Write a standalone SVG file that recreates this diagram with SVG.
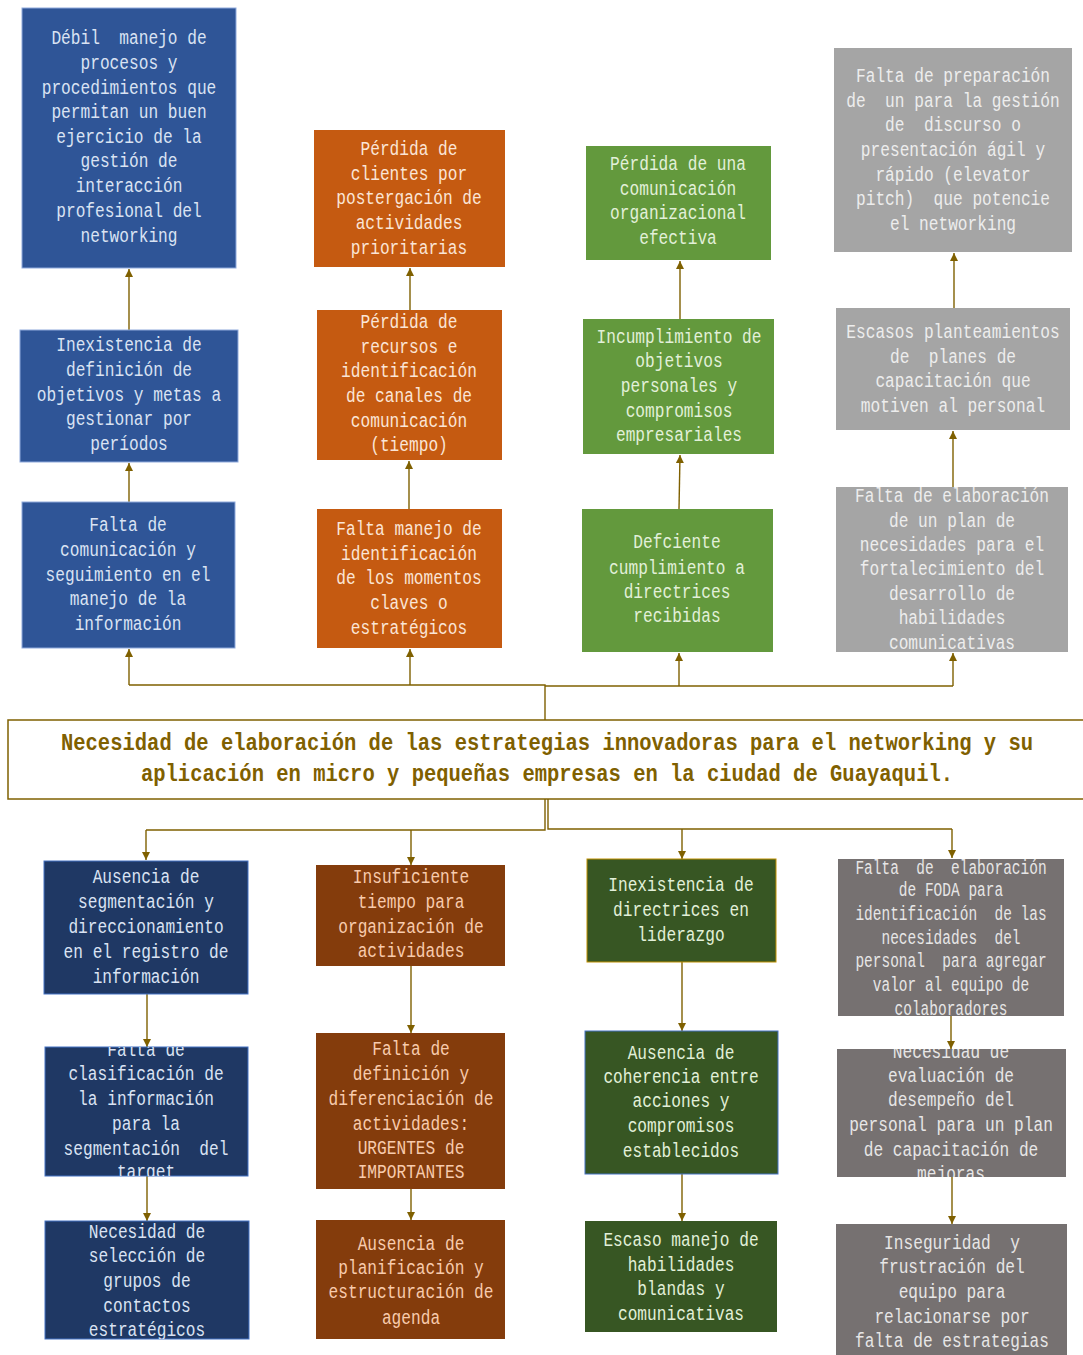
<svg xmlns="http://www.w3.org/2000/svg" width="1083" height="1355" viewBox="0 0 1083 1355">
<style>
.t{font-family:"Liberation Mono","DejaVu Sans Mono",monospace;font-size:21px;text-anchor:middle;white-space:pre}
.title{font-family:"Liberation Mono","DejaVu Sans Mono",monospace;font-size:24px;font-weight:bold;text-anchor:middle;fill:#7F6000;white-space:pre}
.blue{fill:#2F5597;stroke:#8FAADC;stroke-width:1}
.orange{fill:#C55A11}
.green{fill:#63993D}
.gray{fill:#A5A5A5}
.navy{fill:#1F3864;stroke:#4472C4;stroke-width:1}
.brown{fill:#843C0C}
.dgreen{fill:#375623}
.dgray{fill:#767171}
.tb{fill:#DAE3F3}
.to{fill:#FBE5D6}
.tg{fill:#E2F0D9}
.tgr{fill:#EDEDED}
.tbr{fill:#F8CBAD}
.tdg{fill:#E7E6E6}
.c{fill:none;stroke:#7F6000;stroke-width:1.4}
.ca{fill:none;stroke:#7F6000;stroke-width:1.4;marker-end:url(#ah)}
</style>
<defs>
<marker id="ah" viewBox="0 0 10 10" refX="10" refY="5" markerWidth="9" markerHeight="8" markerUnits="userSpaceOnUse" orient="auto">
<path d="M0,0 L10,5 L0,10 z" fill="#7F6000"/>
</marker>
<clipPath id="k1"><rect x="836" y="487" width="232" height="165"/></clipPath>
<clipPath id="k2"><rect x="45" y="1047" width="203" height="129"/></clipPath>
<clipPath id="k3"><rect x="45" y="1221" width="204" height="118"/></clipPath>
<clipPath id="k4"><rect x="838" y="859" width="226" height="157"/></clipPath>
<clipPath id="k5"><rect x="837" y="1049" width="229" height="128"/></clipPath>
<clipPath id="k6"><rect x="836" y="1224" width="231" height="131"/></clipPath>
</defs>
<rect width="1083" height="1355" fill="#FFFFFF"/>

<g id="connectors">
<polyline class="c" points="545,720 545,685 129,685"/>
<polyline class="c" points="545,686 953,686"/>
<line class="ca" x1="129" y1="685" x2="129" y2="649"/>
<line class="ca" x1="410" y1="685" x2="410" y2="649"/>
<line class="ca" x1="679" y1="686" x2="679" y2="653"/>
<line class="ca" x1="953" y1="686" x2="953" y2="653"/>
<line class="ca" x1="129" y1="502" x2="129" y2="463"/>
<line class="ca" x1="129" y1="330" x2="129" y2="269"/>
<line class="ca" x1="409" y1="509" x2="409" y2="461"/>
<line class="ca" x1="410" y1="310" x2="410" y2="268"/>
<line class="ca" x1="679" y1="509" x2="680" y2="455"/>
<line class="ca" x1="680" y1="319" x2="680" y2="261"/>
<line class="ca" x1="953" y1="487" x2="953" y2="431"/>
<line class="ca" x1="954" y1="308" x2="954" y2="253"/>
<polyline class="c" points="545,799 545,830 146,830"/>
<polyline class="c" points="548,799 548,829 952,829"/>
<line class="ca" x1="146" y1="830" x2="146" y2="860"/>
<line class="ca" x1="411" y1="830" x2="411" y2="865"/>
<line class="ca" x1="682" y1="829" x2="682" y2="859"/>
<line class="ca" x1="952" y1="829" x2="952" y2="858"/>
<line class="ca" x1="147" y1="994" x2="147" y2="1047"/>
<line class="ca" x1="147" y1="1176" x2="147" y2="1221"/>
<line class="ca" x1="411" y1="966" x2="411" y2="1033"/>
<line class="ca" x1="411" y1="1189" x2="411" y2="1220"/>
<line class="ca" x1="682" y1="962" x2="682" y2="1031"/>
<line class="ca" x1="682" y1="1174" x2="682" y2="1221"/>
<line class="ca" x1="951" y1="1016" x2="951" y2="1049"/>
<line class="ca" x1="952" y1="1177" x2="952" y2="1224"/>
</g>

<g id="center">
<rect x="8" y="720" width="1090" height="79" fill="#FFFFFF" stroke="#7F6000" stroke-width="1.5"/>
<text class="title" transform="translate(547,0) scale(0.855,1)"><tspan x="0" y="750">Necesidad de elaboración de las estrategias innovadoras para el networking y su</tspan><tspan x="0" y="781">aplicación en micro y pequeñas empresas en la ciudad de Guayaquil.</tspan></text>
</g>

<g id="n_t1a">
<rect class="blue" x="22" y="8" width="214" height="260"/>
<text class="t tb" transform="translate(129,0) scale(0.77,1)"><tspan x="0" y="44">Débil  manejo de</tspan><tspan x="0" y="69">procesos y</tspan><tspan x="0" y="94">procedimientos que</tspan><tspan x="0" y="118">permitan un buen</tspan><tspan x="0" y="143">ejercicio de la</tspan><tspan x="0" y="167">gestión de</tspan><tspan x="0" y="192">interacción</tspan><tspan x="0" y="217">profesional del</tspan><tspan x="0" y="242">networking</tspan></text>
</g>
<g id="n_t1b">
<rect class="blue" x="20" y="330" width="218" height="132"/>
<text class="t tb" transform="translate(129,0) scale(0.77,1)"><tspan x="0" y="351">Inexistencia de</tspan><tspan x="0" y="376">definición de</tspan><tspan x="0" y="401">objetivos y metas a</tspan><tspan x="0" y="425">gestionar por</tspan><tspan x="0" y="450">períodos</tspan></text>
</g>
<g id="n_t1c">
<rect class="blue" x="22" y="502" width="213" height="146"/>
<text class="t tb" transform="translate(128,0) scale(0.77,1)"><tspan x="0" y="531">Falta de</tspan><tspan x="0" y="556">comunicación y</tspan><tspan x="0" y="581">seguimiento en el</tspan><tspan x="0" y="605">manejo de la</tspan><tspan x="0" y="630">información</tspan></text>
</g>

<g id="n_t2a">
<rect class="orange" x="314" y="130" width="191" height="137"/>
<text class="t to" transform="translate(409,0) scale(0.77,1)"><tspan x="0" y="155">Pérdida de</tspan><tspan x="0" y="180">clientes por</tspan><tspan x="0" y="204">postergación de</tspan><tspan x="0" y="229">actividades</tspan><tspan x="0" y="254">prioritarias</tspan></text>
</g>
<g id="n_t2b">
<rect class="orange" x="317" y="310" width="185" height="150"/>
<text class="t to" transform="translate(409,0) scale(0.77,1)"><tspan x="0" y="328">Pérdida de</tspan><tspan x="0" y="353">recursos e</tspan><tspan x="0" y="377">identificación</tspan><tspan x="0" y="402">de canales de</tspan><tspan x="0" y="427">comunicación</tspan><tspan x="0" y="451">(tiempo)</tspan></text>
</g>
<g id="n_t2c">
<rect class="orange" x="317" y="509" width="185" height="139"/>
<text class="t to" transform="translate(409,0) scale(0.77,1)"><tspan x="0" y="535">Falta manejo de</tspan><tspan x="0" y="560">identificación</tspan><tspan x="0" y="584">de los momentos</tspan><tspan x="0" y="609">claves o</tspan><tspan x="0" y="634">estratégicos</tspan></text>
</g>

<g id="n_t3a">
<rect class="green" x="586" y="146" width="185" height="114"/>
<text class="t tg" transform="translate(678,0) scale(0.77,1)"><tspan x="0" y="170">Pérdida de una</tspan><tspan x="0" y="195">comunicación</tspan><tspan x="0" y="219">organizacional</tspan><tspan x="0" y="244">efectiva</tspan></text>
</g>
<g id="n_t3b">
<rect class="green" x="583" y="319" width="191" height="135"/>
<text class="t tg" transform="translate(679,0) scale(0.77,1)"><tspan x="0" y="343">Incumplimiento de</tspan><tspan x="0" y="367">objetivos</tspan><tspan x="0" y="392">personales y</tspan><tspan x="0" y="417">compromisos</tspan><tspan x="0" y="441">empresariales</tspan></text>
</g>
<g id="n_t3c">
<rect class="green" x="582" y="509" width="191" height="143"/>
<text class="t tg" transform="translate(677,0) scale(0.77,1)"><tspan x="0" y="548">Defciente</tspan><tspan x="0" y="574">cumplimiento a</tspan><tspan x="0" y="598">directrices</tspan><tspan x="0" y="622">recibidas</tspan></text>
</g>

<g id="n_t4a">
<rect class="gray" x="834" y="48" width="238" height="204"/>
<text class="t tgr" transform="translate(953,0) scale(0.77,1)"><tspan x="0" y="82">Falta de preparación</tspan><tspan x="0" y="107">de  un para la gestión</tspan><tspan x="0" y="131">de  discurso o</tspan><tspan x="0" y="156">presentación ágil y</tspan><tspan x="0" y="181">rápido (elevator</tspan><tspan x="0" y="205">pitch)  que potencie</tspan><tspan x="0" y="230">el networking</tspan></text>
</g>
<g id="n_t4b">
<rect class="gray" x="836" y="308" width="234" height="122"/>
<text class="t tgr" transform="translate(953,0) scale(0.77,1)"><tspan x="0" y="338">Escasos planteamientos</tspan><tspan x="0" y="363">de  planes de</tspan><tspan x="0" y="387">capacitación que</tspan><tspan x="0" y="412">motiven al personal</tspan></text>
</g>
<g id="n_t4c">
<rect class="gray" x="836" y="487" width="232" height="165"/>
<g clip-path="url(#k1)"><text class="t tgr" transform="translate(952,0) scale(0.77,1)"><tspan x="0" y="502">Falta de elaboración</tspan><tspan x="0" y="527">de un plan de</tspan><tspan x="0" y="551">necesidades para el</tspan><tspan x="0" y="575">fortalecimiento del</tspan><tspan x="0" y="600">desarrollo de</tspan><tspan x="0" y="624">habilidades</tspan><tspan x="0" y="649">comunicativas</tspan></text></g>
</g>

<g id="n_b1a">
<rect class="navy" x="44" y="861" width="204" height="133"/>
<text class="t tb" transform="translate(146,0) scale(0.77,1)"><tspan x="0" y="883">Ausencia de</tspan><tspan x="0" y="908">segmentación y</tspan><tspan x="0" y="933">direccionamiento</tspan><tspan x="0" y="958">en el registro de</tspan><tspan x="0" y="983">información</tspan></text>
</g>
<g id="n_b1b">
<rect class="navy" x="45" y="1047" width="203" height="129"/>
<g clip-path="url(#k2)"><text class="t tb" transform="translate(146,0) scale(0.77,1)"><tspan x="0" y="1056">Falta de</tspan><tspan x="0" y="1080">clasificación de</tspan><tspan x="0" y="1105">la información</tspan><tspan x="0" y="1130">para la</tspan><tspan x="0" y="1155">segmentación  del</tspan><tspan x="0" y="1178">target</tspan></text></g>
</g>
<g id="n_b1c">
<rect class="navy" x="45" y="1221" width="204" height="118"/>
<g clip-path="url(#k3)"><text class="t tb" transform="translate(147,0) scale(0.77,1)"><tspan x="0" y="1238">Necesidad de</tspan><tspan x="0" y="1262">selección de</tspan><tspan x="0" y="1287">grupos de</tspan><tspan x="0" y="1312">contactos</tspan><tspan x="0" y="1336">estratégicos</tspan></text></g>
</g>

<g id="n_b2a">
<rect class="brown" x="316" y="865" width="189" height="101"/>
<text class="t tbr" transform="translate(411,0) scale(0.77,1)"><tspan x="0" y="883">Insuficiente</tspan><tspan x="0" y="908">tiempo para</tspan><tspan x="0" y="933">organización de</tspan><tspan x="0" y="957">actividades</tspan></text>
</g>
<g id="n_b2b">
<rect class="brown" x="316" y="1033" width="189" height="156"/>
<text class="t tbr" transform="translate(411,0) scale(0.77,1)"><tspan x="0" y="1055">Falta de</tspan><tspan x="0" y="1080">definición y</tspan><tspan x="0" y="1105">diferenciación de</tspan><tspan x="0" y="1130">actividades:</tspan><tspan x="0" y="1154">URGENTES de</tspan><tspan x="0" y="1178">IMPORTANTES</tspan></text>
</g>
<g id="n_b2c">
<rect class="brown" x="316" y="1220" width="189" height="119"/>
<text class="t tbr" transform="translate(411,0) scale(0.77,1)"><tspan x="0" y="1250">Ausencia de</tspan><tspan x="0" y="1274">planificación y</tspan><tspan x="0" y="1298">estructuración de</tspan><tspan x="0" y="1324">agenda</tspan></text>
</g>

<g id="n_b3a">
<rect class="dgreen" x="587" y="859" width="189" height="103" stroke="#BF9000" stroke-width="1"/>
<text class="t tg" transform="translate(681,0) scale(0.77,1)"><tspan x="0" y="891">Inexistencia de</tspan><tspan x="0" y="916">directrices en</tspan><tspan x="0" y="941">liderazgo</tspan></text>
</g>
<g id="n_b3b">
<rect class="dgreen" x="585" y="1031" width="193" height="143" stroke="#4472C4" stroke-width="1"/>
<text class="t tg" transform="translate(681,0) scale(0.77,1)"><tspan x="0" y="1059">Ausencia de</tspan><tspan x="0" y="1083">coherencia entre</tspan><tspan x="0" y="1107">acciones y</tspan><tspan x="0" y="1132">compromisos</tspan><tspan x="0" y="1157">establecidos</tspan></text>
</g>
<g id="n_b3c">
<rect class="dgreen" x="585" y="1221" width="192" height="111"/>
<text class="t tg" transform="translate(681,0) scale(0.77,1)"><tspan x="0" y="1246">Escaso manejo de</tspan><tspan x="0" y="1271">habilidades</tspan><tspan x="0" y="1295">blandas y</tspan><tspan x="0" y="1320">comunicativas</tspan></text>
</g>

<g id="n_b4a">
<rect class="dgray" x="838" y="859" width="226" height="157"/>
<g clip-path="url(#k4)"><text class="t tdg" transform="translate(951,0) scale(0.69,1)"><tspan x="0" y="874">Falta  de  elaboración</tspan><tspan x="0" y="896">de FODA para</tspan><tspan x="0" y="920">identificación  de las</tspan><tspan x="0" y="944">necesidades  del</tspan><tspan x="0" y="967">personal  para agregar</tspan><tspan x="0" y="991">valor al equipo de</tspan><tspan x="0" y="1015">colaboradores</tspan></text></g>
</g>
<g id="n_b4b">
<rect class="dgray" x="837" y="1049" width="229" height="128"/>
<g clip-path="url(#k5)"><text class="t tdg" transform="translate(951,0) scale(0.77,1)"><tspan x="0" y="1058">Necesidad de</tspan><tspan x="0" y="1082">evaluación de</tspan><tspan x="0" y="1106">desempeño del</tspan><tspan x="0" y="1131">personal para un plan</tspan><tspan x="0" y="1156">de capacitación de</tspan><tspan x="0" y="1180">mejoras</tspan></text></g>
</g>
<g id="n_b4c">
<rect class="dgray" x="836" y="1224" width="231" height="131"/>
<g clip-path="url(#k6)"><text class="t tdg" transform="translate(952,0) scale(0.77,1)"><tspan x="0" y="1249">Inseguridad  y</tspan><tspan x="0" y="1273">frustración del</tspan><tspan x="0" y="1298">equipo para</tspan><tspan x="0" y="1323">relacionarse por</tspan><tspan x="0" y="1347">falta de estrategias</tspan></text></g>
</g>
</svg>
